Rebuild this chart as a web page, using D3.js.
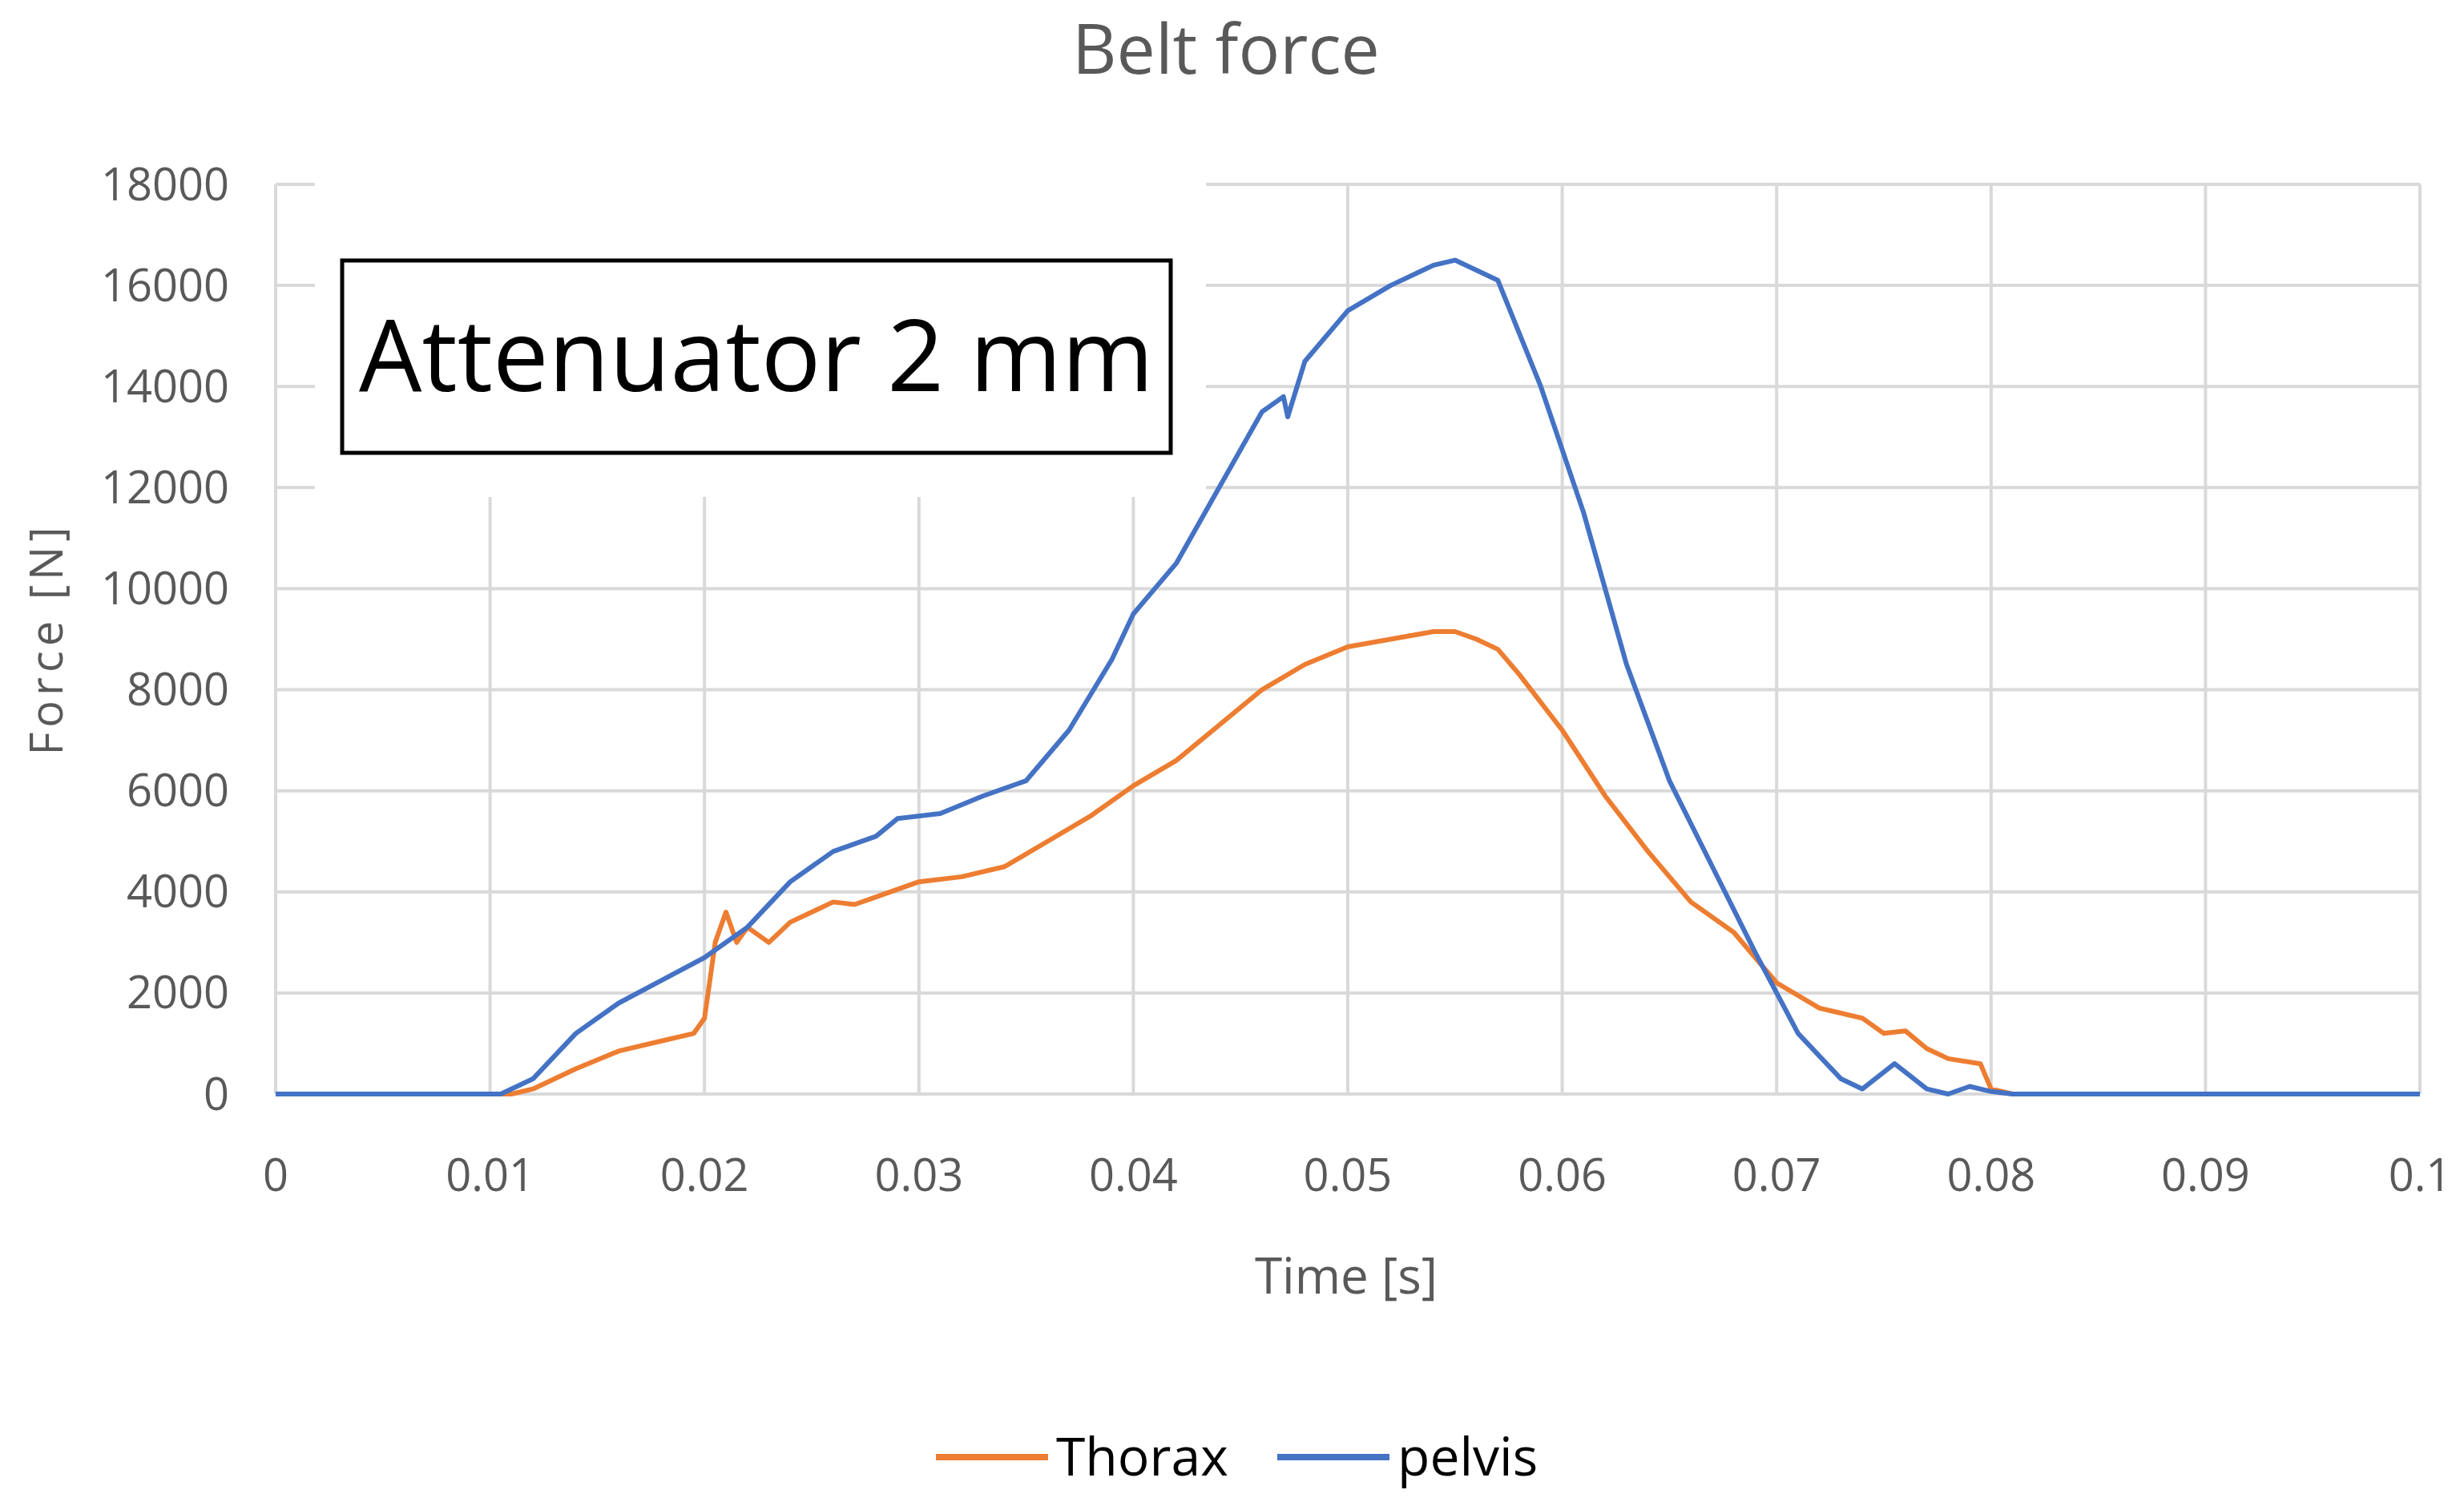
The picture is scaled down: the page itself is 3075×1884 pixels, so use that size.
<!DOCTYPE html>
<html>
<head>
<meta charset="utf-8">
<script src="https://cdn.jsdelivr.net/npm/d3@7"></script>
<style>
  body { margin: 0; background: #fff; }
  text { font-family: "Liberation Sans Narrow", "Open Sans", sans-serif; }
</style>
</head>
<body>
<svg id="chart" width="3075" height="1884"></svg>
<script>
// Data
const xTicks = [0, 0.01, 0.02, 0.03, 0.04, 0.05, 0.06, 0.07, 0.08, 0.09, 0.1];
const yTicks = [0, 2000, 4000, 6000, 8000, 10000, 12000, 14000, 16000, 18000];

const thoraxT = [0, 0.011, 0.012, 0.014, 0.016, 0.018, 0.0195, 0.020, 0.0205, 0.021, 0.0215, 0.022, 0.023, 0.024, 0.025, 0.026, 0.027, 0.028, 0.030, 0.032, 0.034, 0.036, 0.038, 0.040, 0.042, 0.044, 0.046, 0.048, 0.050, 0.052, 0.054, 0.055, 0.056, 0.057, 0.058, 0.060, 0.062, 0.064, 0.066, 0.068, 0.070, 0.072, 0.074, 0.075, 0.076, 0.077, 0.078, 0.0795, 0.080, 0.081, 0.1];
const thoraxF = [0, 0, 100, 500, 850, 1050, 1200, 1500, 3000, 3600, 3000, 3300, 3000, 3400, 3600, 3800, 3750, 3900, 4200, 4300, 4500, 5000, 5500, 6100, 6600, 7300, 8000, 8500, 8850, 9000, 9150, 9150, 9000, 8800, 8300, 7200, 5900, 4800, 3800, 3200, 2200, 1700, 1500, 1200, 1250, 900, 700, 600, 100, 0, 0];

const pelvisT = [0, 0.0105, 0.012, 0.014, 0.016, 0.018, 0.020, 0.022, 0.024, 0.026, 0.028, 0.029, 0.031, 0.033, 0.035, 0.037, 0.039, 0.040, 0.042, 0.044, 0.046, 0.047, 0.0472, 0.048, 0.050, 0.052, 0.054, 0.055, 0.057, 0.059, 0.061, 0.063, 0.065, 0.067, 0.069, 0.071, 0.073, 0.074, 0.0755, 0.077, 0.078, 0.079, 0.080, 0.081, 0.1];
const pelvisF = [0, 0, 300, 1200, 1800, 2250, 2700, 3300, 4200, 4800, 5100, 5450, 5550, 5900, 6200, 7200, 8600, 9500, 10500, 12000, 13500, 13800, 13400, 14500, 15500, 16000, 16400, 16500, 16100, 14000, 11500, 8500, 6200, 4500, 2800, 1200, 300, 100, 600, 100, 0, 150, 50, 0, 0];

const seriesNames = ["Thorax", "pelvis"];
const colors = { Thorax: "#ED7D31", pelvis: "#4472C4" };

const svg = d3.select("#chart");
const plotLeft = 344, plotRight = 3020, plotTop = 230, plotBottom = 1365;

const x = d3.scaleLinear().domain([0, 0.1]).range([plotLeft, plotRight]);
const y = d3.scaleLinear().domain([0, 18000]).range([plotBottom, plotTop]);

// Gridlines
svg.append("g").selectAll("line").data(yTicks).enter().append("line")
    .attr("x1", plotLeft).attr("x2", plotRight)
    .attr("y1", d => y(d)).attr("y2", d => y(d))
    .attr("stroke", "#d9d9d9").attr("stroke-width", 4);
svg.append("g").selectAll("line").data(xTicks).enter().append("line")
    .attr("x1", d => x(d)).attr("x2", d => x(d))
    .attr("y1", plotTop).attr("y2", plotBottom)
    .attr("stroke", "#d9d9d9").attr("stroke-width", 4);

// Tick labels
svg.append("g").selectAll("text").data(yTicks).enter().append("text")
    .attr("x", plotLeft - 58).attr("y", d => y(d)).attr("dy", "0.35em")
    .attr("text-anchor", "end").attr("font-size", 56).attr("fill", "#595959")
    .text(d => d);
svg.append("g").selectAll("text").data(xTicks).enter().append("text")
    .attr("x", d => x(d)).attr("y", 1486)
    .attr("text-anchor", "middle").attr("font-size", 56).attr("fill", "#595959")
    .text(d => d);

// Lines
const line = d3.line().x(d => x(d[0])).y(d => y(d[1]));
const thorax = thoraxT.map((t, i) => [t, thoraxF[i]]);
const pelvis = pelvisT.map((t, i) => [t, pelvisF[i]]);
[["Thorax", thorax], ["pelvis", pelvis]].forEach(([name, pts]) => {
    svg.append("path").datum(pts)
        .attr("d", line)
        .attr("fill", "none")
        .attr("stroke", colors[name])
        .attr("stroke-width", 6)
        .attr("stroke-linejoin", "round");
});

// Annotation box (white backing hides gridlines)
svg.append("rect").attr("x", 393).attr("y", 226).attr("width", 1112).attr("height", 394).attr("fill", "#fff");
svg.append("rect").attr("x", 427).attr("y", 325).attr("width", 1034).attr("height", 240)
    .attr("fill", "#fff").attr("stroke", "#000").attr("stroke-width", 5);
svg.append("text").attr("x", 944).attr("y", 445).attr("dy", "0.35em")
    .attr("text-anchor", "middle").attr("font-size", 124).attr("fill", "#000")
    .text("Attenuator 2 mm");

// Titles
svg.append("text").attr("x", 1530).attr("y", 92).attr("text-anchor", "middle")
    .attr("font-size", 86).attr("fill", "#595959").text("Belt force");
svg.append("text").attr("x", 1680).attr("y", 1614).attr("text-anchor", "middle")
    .attr("font-size", 62).attr("fill", "#595959").text("Time [s]");
svg.append("text").attr("transform", "translate(78,797) rotate(-90)")
    .attr("text-anchor", "middle").attr("font-size", 56).attr("fill", "#595959")
    .attr("letter-spacing", 6).text("Force [N]");

// Legend
const legendX = [1168, 1594];
seriesNames.forEach((name, i) => {
    const lx = legendX[i];
    svg.append("line").attr("x1", lx).attr("x2", lx + 140)
        .attr("y1", 1818).attr("y2", 1818)
        .attr("stroke", colors[name]).attr("stroke-width", 8);
    svg.append("text").attr("x", lx + 150).attr("y", 1818).attr("dy", "0.35em")
        .attr("font-size", 66).attr("fill", "#000").text(name);
});
</script>
</body>
</html>
